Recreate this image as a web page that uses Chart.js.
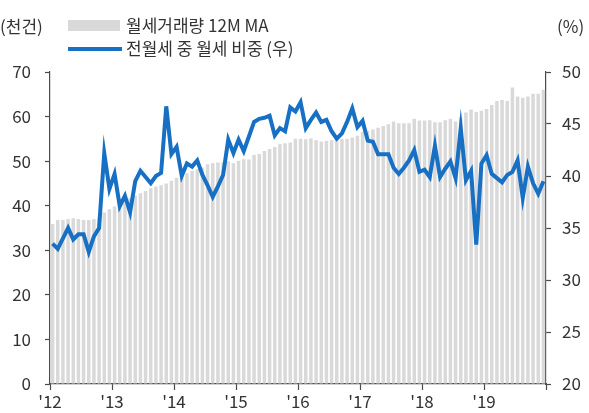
<!DOCTYPE html>
<html>
<head>
<meta charset="utf-8">
<script src="https://cdn.jsdelivr.net/npm/chart.js@4"></script>
<style>
  html, body { margin: 0; padding: 0; background: #fff; }
  #wrap { position: relative; width: 589px; height: 413px; font-family: "Noto Sans CJK KR", "Noto Sans", sans-serif; color: #333; }
  canvas { position: absolute; left: 0; top: 0; }
  .lbl { position: absolute; font-size: 17px; line-height: 20px; white-space: nowrap; }
  .sw { position: absolute; }
</style>
</head>
<body>
<div id="wrap">
  <canvas id="c" width="589" height="413"></canvas>
  <div class="lbl" style="left:0px; top:16px;">(천건)</div>
  <div class="lbl" style="left:557px; top:16px;">(%)</div>
  <div class="sw" style="left:68px; top:20px; width:52px; height:11px; background:#d9d9d9;"></div>
  <div class="lbl" style="left:126px; top:15px;">월세거래량 12M MA</div>
  <div class="sw" style="left:68px; top:47px; width:54px; height:4px; background:#1870c4;"></div>
  <div class="lbl" style="left:126px; top:38px;">전월세 중 월세 비중 (우)</div>
</div>
<script>
const years = ['12','13','14','15','16','17','18','19'];
const yearLabels = ["'12","'13","'14","'15","'16","'17","'18","'19"];

const rentVolumeMA = [
  35.9, 36.8, 36.8, 37.0, 37.2, 37.0, 36.8, 36.8, 37.0, 37.2, 38.5, 39.2,
  39.8, 40.5, 41.1, 41.7, 42.3, 42.8, 43.3, 43.9, 44.3, 44.6, 45.0, 45.6,
  46.3, 46.7, 47.3, 47.8, 48.2, 48.6, 49.3, 49.5, 49.7, 49.7, 50.0, 49.5,
  50.1, 50.4, 50.4, 51.4, 51.6, 52.3, 52.7, 53.2, 53.8, 54.0, 54.2, 55.0,
  55.0, 54.9, 55.1, 54.7, 54.4, 54.6, 54.7, 54.7, 55.0, 55.0, 55.3, 55.7,
  56.6, 56.8, 57.1, 57.5, 57.9, 58.3, 58.9, 58.5, 58.5, 58.5, 59.5, 59.1,
  59.1, 59.2, 58.7, 58.7, 59.2, 59.5, 58.9, 59.8, 60.9, 61.6, 61.0, 61.3,
  61.7, 62.6, 63.5, 63.7, 63.5, 66.5, 64.5, 64.2, 64.5, 65.1, 65.1, 66.0
];

const monthlyRentShare = [
  33.5, 33.0, 34.0, 35.0, 33.9, 34.4, 34.4, 32.7, 34.2, 35.0, 42.2, 38.75,
  40.2, 37.1, 38.1, 36.5, 39.5, 40.5, 39.9, 39.3, 40.0, 40.3, 46.7, 42.1,
  42.8, 40.0, 41.2, 40.9, 41.5, 40.1, 39.1, 38.0, 39.0, 40.1, 43.5, 42.2,
  43.5, 42.4, 43.8, 45.2, 45.5, 45.6, 45.8, 43.9, 44.6, 44.3, 46.6, 46.2,
  47.1, 44.6, 45.4, 46.1, 45.2, 45.4, 44.3, 43.6, 44.1, 45.2, 46.5, 44.7,
  45.3, 43.4, 43.3, 42.1, 42.1, 42.1, 40.8, 40.2, 40.8, 41.5, 42.5, 40.4,
  40.6, 39.9, 42.9, 39.9, 40.7, 41.4, 39.8, 44.6, 39.6, 40.5, 33.4, 41.2,
  42.0, 40.2, 39.8, 39.4, 40.1, 40.4, 41.5, 37.9, 40.9, 39.3, 38.3, 39.5
];

const categories = [];
years.forEach(y => { for (let m = 1; m <= 12; m++) categories.push('20' + y + '-' + String(m).padStart(2, '0')); });

const axisColor = '#4a4a4a';
const textColor = '#333333';
const tickFont = { family: '"Noto Sans CJK KR", "Noto Sans", sans-serif', size: 17 };

new Chart(document.getElementById('c'), {
  data: {
    labels: categories,
    datasets: [
      {
        type: 'line',
        label: '전월세 중 월세 비중 (우)',
        data: monthlyRentShare,
        yAxisID: 'y1',
        xAxisID: 'x',
        borderColor: '#1870c4',
        borderWidth: 4,
        pointRadius: 0,
        tension: 0,
        borderJoinStyle: 'miter',
        order: 0
      },
      {
        type: 'bar',
        label: '월세거래량 12M MA',
        data: rentVolumeMA,
        yAxisID: 'y',
        xAxisID: 'x',
        backgroundColor: '#d9d9d9',
        barPercentage: 0.68,
        categoryPercentage: 1.0,
        order: 1
      }
    ]
  },
  options: {
    responsive: false,
    animation: false,
    layout: { padding: { top: 72, left: 0, right: 0, bottom: 0 } },
    plugins: { legend: { display: false }, tooltip: { enabled: false } },
    scales: {
      x: {
        type: 'category',
        display: false,
        offset: true
      },
      x2: {
        type: 'linear',
        position: 'bottom',
        min: 0,
        max: 96,
        afterBuildTicks: s => { s.ticks = [0,12,24,36,48,60,72,84,96].map(v => ({ value: v })); },
        afterFit: s => { s.height = 29; },
        grid: { drawOnChartArea: false, color: axisColor, tickLength: 6, tickWidth: 1.2 },
        border: { display: true, color: axisColor, width: 1.2 },
        ticks: {
          autoSkip: false,
          maxRotation: 0,
          padding: 1,
          color: textColor,
          font: tickFont,
          callback: v => (v < 96 ? yearLabels[v / 12] : '')
        }
      },
      y: {
        type: 'linear',
        position: 'left',
        min: 0,
        max: 70,
        afterFit: s => { s.width = 50; },
        grid: { drawOnChartArea: false, color: axisColor, tickLength: 5, tickWidth: 1.2 },
        border: { display: true, color: axisColor, width: 1.2 },
        ticks: { stepSize: 10, padding: 14, color: textColor, font: tickFont }
      },
      y1: {
        type: 'linear',
        position: 'right',
        min: 20,
        max: 50,
        afterFit: s => { s.width = 43; },
        grid: { drawOnChartArea: false, color: axisColor, tickLength: 5, tickWidth: 1.2 },
        border: { display: true, color: axisColor, width: 1.2 },
        ticks: { stepSize: 5, padding: 11, color: textColor, font: tickFont }
      }
    }
  }
});
</script>
</body>
</html>
